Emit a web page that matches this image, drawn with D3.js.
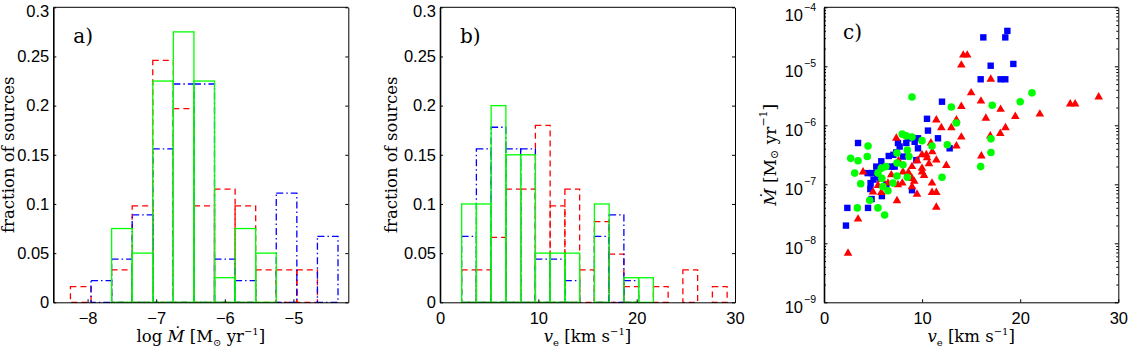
<!DOCTYPE html>
<html><head><meta charset="utf-8">
<script src="https://cdn.jsdelivr.net/npm/d3@7"></script>
<style>body{margin:0;background:#fff}svg{display:block}</style>
</head><body><svg id="c" width="1128" height="347"></svg>
<script>
// ---------- data ----------
// panel a: log Mdot histogram (bin edges and fractions)
const mdotBinEdges = [-8.25,-7.95,-7.65,-7.35,-7.05,-6.75,-6.45,-6.15,-5.85,-5.55,-5.25,-4.95,-4.65,-4.35];
const mdotFracRed   = [0.016,0,0.033,0.098,0.246,0.197,0.098,0.115,0.098,0.033,0.033,0.033,0];
const mdotFracBlue  = [0,0.022,0.044,0.089,0.156,0.222,0.222,0.044,0.022,0,0.111,0,0.067];
const mdotFracGreen = [0,0,0.075,0.05,0.225,0.275,0.225,0.025,0.075,0.05,0,0,0];
// panel b: v_e histogram
const veBinEdges = [2.2,3.7,5.2,6.7,8.2,9.7,11.2,12.7,14.2,15.7,17.2,18.7,20.2,21.7,23.2,24.7,26.2,27.7,29.2];
const veFracRed   = [0.033,0.033,0.066,0.115,0.115,0.180,0.098,0.115,0.033,0.082,0.049,0.016,0,0.016,0,0.033,0,0.016];
const veFracBlue  = [0.067,0.156,0.178,0.156,0.156,0.044,0.044,0.022,0,0.067,0.089,0.022,0,0,0,0,0,0];
const veFracGreen = [0.1,0.1,0.2,0.15,0.15,0.05,0.05,0.05,0,0.1,0,0.025,0.025,0,0,0,0,0];
// tick labels
const fracTicks = [0,0.05,0.1,0.15,0.2,0.25,0.3];
const fracTickLabels = ["0","0.05","0.1","0.15","0.2","0.25","0.3"];
const mdotTicks = [-8,-7,-6,-5];
const veTicks = [0,10,20,30];
const logTicks = [-9,-8,-7,-6,-5,-4];
// panel c: scatter (v_e in km/s, log10 Mdot in Msun/yr)
const veBlue = [16.24,18.69,18.48,16.99,19.3,15.97,18.0,18.48,12.03,10.5,10.6,11.62,12.81,2.24,2.38,4.49,3.47,
  4.45,4.9,4.75,4.72,5.05,4.85,5.33,5.84,5.74,5.45,6.35,6.6,6.2,5.9,6.86,7.71,7.07,7.54,7.37,7.2,8.05,
  8.56,8.39,9.24,9.58,9.58,9.41,8.97];
const logMdotBlue = [-4.51,-4.40,-4.51,-4.99,-4.96,-5.22,-5.22,-5.22,-5.60,-5.89,-6.09,-6.22,-6.39,-7.70,-7.40,-7.40,-6.30,
  -6.81,-6.81,-6.98,-7.08,-6.92,-7.25,-6.70,-6.61,-6.90,-6.87,-7.01,-6.52,-6.70,-7.20,-6.70,-6.36,-6.50,-6.30,-6.46,-6.70,-6.53,
  -6.22,-6.30,-6.28,-6.22,-6.39,-6.59,-7.10];
const veRed = [14.2,14.6,14.0,17.0,15.0,16.0,28.0,25.1,25.6,14.0,18.0,22.0,19.5,16.5,11.45,13.5,18.5,11.96,12.98,17.97,
  16.95,14.0,7.37,13.5,11.04,9.99,10.43,16.04,11.45,12.47,8.97,9.99,9.99,8.05,3.98,6.86,8.97,7.98,11.01,6.52,
  5.5,7.54,8.97,4.99,5.84,11.01,11.45,9.48,7.44,11.45,3.47,2.45,
  5.9,7.6,8.6,9.2,9.5,10.2,10.7,10.5,10.9];
const logMdotRed = [-4.81,-4.81,-4.98,-5.22,-5.45,-5.59,-5.52,-5.64,-5.64,-5.68,-5.73,-5.81,-5.85,-5.88,-5.91,-5.91,-6.04,-6.04,-6.04,-6.14,
  -6.18,-6.20,-6.22,-6.35,-6.45,-6.50,-6.50,-6.52,-6.59,-6.68,-6.70,-6.73,-6.79,-6.79,-6.79,-6.84,-6.90,-6.98,-6.98,-6.98,
  -7.02,-7.01,-7.04,-7.13,-7.14,-7.14,-7.14,-7.17,-7.28,-7.39,-7.59,-8.17,
  -6.92,-6.60,-6.80,-6.95,-6.60,-6.85,-6.65,-6.55,-6.30];
const veGreen = [2.72,3.47,3.13,3.4,4.49,4.41,3.74,4.66,5.5,6.18,5.84,5.5,6.01,6.52,5.9,6.3,7.03,7.44,7.44,7.44,
  7.98,8.05,8.39,8.97,8.49,8.66,8.49,8.97,9.99,11.01,12.57,12.03,12.98,13.49,17.15,17.02,17.02,15.97,20.0,21.2];
const logMdotGreen = [-6.56,-6.60,-6.81,-7.40,-6.35,-6.53,-6.99,-7.27,-7.40,-7.52,-6.73,-6.81,-7.04,-7.11,-6.90,-6.70,-6.98,-6.47,-6.64,-6.86,
  -6.15,-6.67,-6.18,-6.20,-6.42,-6.53,-6.88,-5.52,-6.26,-6.35,-6.33,-6.88,-5.69,-5.96,-5.66,-6.23,-6.46,-6.70,-5.60,-5.45];

// ---------- drawing ----------
const svg = d3.select('#c');
const TICKFONT = '"Liberation Sans", Arial, sans-serif';
const SERIF = '"DejaVu Serif", "Liberation Serif", serif';
const TOP = 7.3, BOT = 302.3;
const RED = '#ff0000', BLUE = '#0000ff', GREEN = '#00ff00';

function styleAxis(g){
  g.selectAll('path.domain').attr('stroke','#000').attr('stroke-width',1);
  g.selectAll('.tick line').attr('stroke','#000').attr('stroke-width',1);
  g.selectAll('.tick text').attr('font-family',TICKFONT).attr('font-size',16.5).attr('fill','#000');
}

function frame(x0,x1){
  svg.append('line').attr('x1',x0).attr('x2',x1).attr('y1',TOP).attr('y2',TOP).attr('stroke','#000').attr('stroke-width',1);
}

function histPanel(o){
  const x = d3.scaleLinear().domain(o.xDomain).range([o.x0,o.x1]);
  const y = d3.scaleLinear().domain([0,0.3]).range([BOT,TOP]);
  const g = svg.append('g');
  o.series.forEach(s=>{
    s.values.forEach((v,i)=>{
      if(v<=0) return;
      g.append('rect')
        .attr('x',x(o.edges[i])).attr('y',y(v))
        .attr('width',x(o.edges[i+1])-x(o.edges[i]))
        .attr('height',y(0)-y(v))
        .attr('fill','none').attr('stroke',s.color)
        .attr('stroke-width',1.3)
        .attr('stroke-dasharray',s.dash||null);
    });
  });
  // axes
  const ax = svg.append('g').attr('transform',`translate(0,${BOT})`)
    .call(d3.axisBottom(x).tickValues(o.xTicks).tickSizeInner(-3).tickSizeOuter(0).tickPadding(10)
      .tickFormat(o.xFmt));
  styleAxis(ax);
  const ay = svg.append('g').attr('transform',`translate(${o.x0},0)`)
    .call(d3.axisLeft(y).tickValues(fracTicks).tickSizeInner(-3).tickSizeOuter(0).tickPadding(4)
      .tickFormat((d,i)=>fracTickLabels[i]));
  styleAxis(ay);
  ay.select('path.domain').attr('stroke-width',1.6);
  // keep the top label inside the picture
  ay.selectAll('.tick text').filter(d=>d===0.3).attr('dy','0.55em');
  const ar = svg.append('g').attr('transform',`translate(${o.x1},0)`)
    .call(d3.axisRight(y).tickValues(fracTicks).tickSizeInner(-3).tickSizeOuter(0).tickFormat(''));
  styleAxis(ar);
  frame(o.x0,o.x1);
  // labels
  svg.append('text').attr('transform',`translate(${o.ylx},${(TOP+BOT)/2}) rotate(-90)`)
    .attr('text-anchor','middle').attr('dominant-baseline','central')
    .attr('font-family',SERIF).attr('font-size',16.5).text('fraction of sources');
  svg.append('text').attr('x',o.x0+20).attr('y',43).attr('font-family',SERIF).attr('font-size',20).text(o.label);
  return {x,y};
}

function mdotLabel(sel){
  sel.append('tspan').text('log ');
  sel.append('tspan').attr('font-style','italic').text('Ṁ');
  sel.append('tspan').text(' [M');
  sel.append('tspan').attr('font-size',10).attr('dy',4).text('⊙');
  sel.append('tspan').attr('dy',-4).text(' yr');
  sel.append('tspan').attr('font-size',10).attr('dy',-7).text('−1');
  sel.append('tspan').attr('dy',7).text(']');
}
function veLabel(sel){
  sel.append('tspan').attr('font-style','italic').text('v');
  sel.append('tspan').attr('font-size',10).attr('dy',4).text('e');
  sel.append('tspan').attr('dy',-4).text(' [km s');
  sel.append('tspan').attr('font-size',10).attr('dy',-7).text('−1');
  sel.append('tspan').attr('dy',7).text(']');
}

// panel a
histPanel({x0:53.3,x1:348.3,ylx:8,xDomain:[-8.5,-4.2],edges:mdotBinEdges,xTicks:mdotTicks,
  xFmt:d3.format('d'),label:'a)',
  series:[{values:mdotFracRed,color:RED,dash:'6,4'},{values:mdotFracBlue,color:BLUE,dash:'7,3,1.5,3'},{values:mdotFracGreen,color:GREEN}]});
svg.append('text').attr('x',(53.3+348.3)/2).attr('y',342).attr('text-anchor','middle')
  .attr('font-family',SERIF).attr('font-size',16.5).call(mdotLabel);

// panel b
histPanel({x0:440,x1:735,ylx:391,xDomain:[0,30],edges:veBinEdges,xTicks:veTicks,
  xFmt:d3.format('d'),label:'b)',
  series:[{values:veFracRed,color:RED,dash:'6,4'},{values:veFracBlue,color:BLUE,dash:'7,3,1.5,3'},{values:veFracGreen,color:GREEN}]});
svg.append('text').attr('x',(440+735)/2).attr('y',342).attr('text-anchor','middle')
  .attr('font-family',SERIF).attr('font-size',16.5).call(veLabel);

// panel c
(function(){
  const x0=824, x1=1118.3;
  const x = d3.scaleLinear().domain([0,30]).range([x0,x1]);
  const y = d3.scaleLog().domain([1e-9,1e-4]).range([BOT,TOP]);
  const g = svg.append('g');
  const sq = 6.4;
  g.selectAll('rect.b').data(d3.range(veBlue.length)).join('rect')
    .attr('x',i=>x(veBlue[i])-sq/2).attr('y',i=>y(Math.pow(10,logMdotBlue[i]))-sq/2)
    .attr('width',sq).attr('height',sq).attr('fill',BLUE);
  const tri = d3.symbol().type(d3.symbolTriangle).size(32);
  g.selectAll('path.r').data(d3.range(veRed.length)).join('path')
    .attr('d',tri).attr('transform',i=>`translate(${x(veRed[i])},${y(Math.pow(10,logMdotRed[i]))})`)
    .attr('fill',RED);
  g.selectAll('circle.g').data(d3.range(veGreen.length)).join('circle')
    .attr('cx',i=>x(veGreen[i])).attr('cy',i=>y(Math.pow(10,logMdotGreen[i])))
    .attr('r',3.8).attr('fill',GREEN);

  const ax = svg.append('g').attr('transform',`translate(0,${BOT})`)
    .call(d3.axisBottom(x).tickValues(veTicks).tickSizeInner(-3).tickSizeOuter(0).tickPadding(10).tickFormat(d3.format('d')));
  styleAxis(ax);
  const decades = logTicks.map(e=>Math.pow(10,e));
  const minors = [];
  logTicks.slice(0,-1).forEach(e=>{ for(let k=2;k<10;k++) minors.push(k*Math.pow(10,e)); });
  const ay = svg.append('g').attr('transform',`translate(${x0},0)`)
    .call(d3.axisLeft(y).tickValues(decades).tickSizeInner(-3.5).tickSizeOuter(0).tickFormat(''));
  styleAxis(ay);
  ay.select('path.domain').attr('stroke-width',1.6);
  const aym = svg.append('g').attr('transform',`translate(${x0},0)`)
    .call(d3.axisLeft(y).tickValues(minors).tickSizeInner(-2).tickSizeOuter(0).tickFormat(''));
  styleAxis(aym); aym.select('path.domain').remove();
  const ar = svg.append('g').attr('transform',`translate(${x1},0)`)
    .call(d3.axisRight(y).tickValues(decades).tickSizeInner(-3.5).tickSizeOuter(0).tickFormat(''));
  styleAxis(ar);
  const arm = svg.append('g').attr('transform',`translate(${x1},0)`)
    .call(d3.axisRight(y).tickValues(minors).tickSizeInner(-2).tickSizeOuter(0).tickFormat(''));
  styleAxis(arm); arm.select('path.domain').remove();
  frame(x0,x1);
  // log tick labels: "10" with a superscript exponent
  logTicks.forEach(e=>{
    const ty = Math.max(y(Math.pow(10,e)), 9.5);
    svg.append('text').attr('x',x0-21).attr('y',ty+11)
      .attr('text-anchor','end').attr('font-family',TICKFONT).attr('font-size',16.5).text('10');
    svg.append('text').attr('x',x0-20).attr('y',ty+1)
      .attr('text-anchor','start').attr('font-family',TICKFONT).attr('font-size',10.5).text('−'+Math.abs(e));
  });
  svg.append('text').attr('x',x0+19).attr('y',39).attr('font-family',SERIF).attr('font-size',20).text('c)');
  svg.append('text').attr('x',(x0+x1)/2).attr('y',342).attr('text-anchor','middle')
    .attr('font-family',SERIF).attr('font-size',16.5).call(veLabel);
  const yl = svg.append('text').attr('transform',`translate(${x0-54},${(TOP+BOT)/2}) rotate(-90)`)
    .attr('text-anchor','middle').attr('dominant-baseline','central')
    .attr('font-family',SERIF).attr('font-size',17);
  yl.append('tspan').attr('font-style','italic').text('Ṁ');
  yl.append('tspan').text(' [M');
  yl.append('tspan').attr('font-size',11).attr('dy',4).text('⊙');
  yl.append('tspan').attr('dy',-4).text(' yr');
  yl.append('tspan').attr('font-size',11).attr('dy',-7).text('−1');
  yl.append('tspan').attr('dy',7).text(']');
})();
</script></body></html>
